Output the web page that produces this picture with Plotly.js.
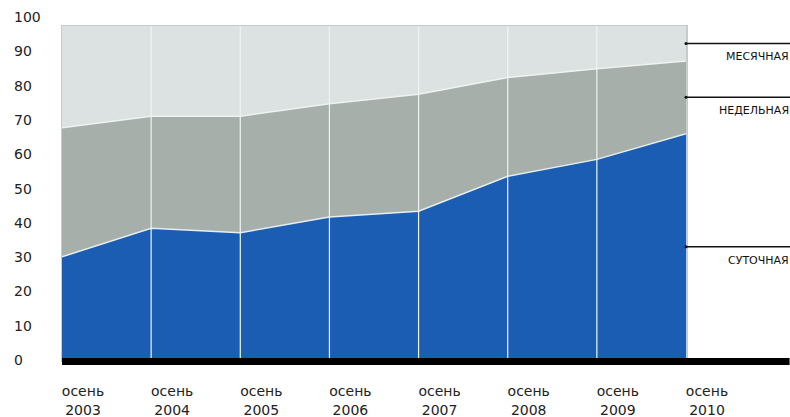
<!DOCTYPE html>
<html>
<head>
<meta charset="utf-8">
<script src="https://cdn.plot.ly/plotly-3.0.1.min.js"></script>
<style>html,body{margin:0;padding:0;background:#fff;}#chart{width:790px;height:417px;}</style>
</head>
<body>
<div id="chart"></div>
<script>
// Data
var categories = ["осень<br>2003","осень<br>2004","осень<br>2005","осень<br>2006","осень<br>2007","осень<br>2008","осень<br>2009","осень<br>2010"];
var daily   = [30.1, 38.4, 37.1, 41.7, 43.4, 53.6, 58.5, 66.0];   // суточная
var weekly  = [37.6, 32.7, 34.0, 33.0, 34.1, 28.8, 26.4, 21.2];   // недельная
var monthly = [32.3, 28.9, 28.9, 25.3, 22.5, 17.6, 15.1, 12.8];   // месячная
var seriesNames = ["СУТОЧНАЯ", "НЕДЕЛЬНАЯ", "МЕСЯЧНАЯ"];
var yTicks = [0,10,20,30,40,50,60,70,80,90,100];

var yMax = 97.4;
var font = "DejaVu Sans, sans-serif";

var traces = [
  {x: categories, y: daily, name: seriesNames[0], type: "scatter", mode: "lines", stackgroup: "one",
   fillcolor: "#1c5db4", line: {color: "#e4eef2", width: 1.5}},
  {x: categories, y: weekly, name: seriesNames[1], type: "scatter", mode: "lines", stackgroup: "one",
   fillcolor: "#a7afab", line: {color: "#eef2f0", width: 1.5}},
  {x: categories, y: monthly, name: seriesNames[2], type: "scatter", mode: "lines", stackgroup: "one",
   fillcolor: "#dce2e1", line: {color: "#dce2e1", width: 1}}
];

var shapes = [];
var annotations = [];
// vertical white grid lines at each category (inner)
for (var i = 1; i < categories.length - 1; i++) {
  shapes.push({type: "line", xref: "x", yref: "paper", x0: i, x1: i, y0: 0, y1: 1,
    line: {color: "#eef4f4", width: 1.2}, layer: "above"});
}
// black baseline extending right
shapes.push({type: "line", xref: "paper", yref: "paper", x0: 0, x1: 1.166, y0: -0.0045, y1: -0.0045,
  line: {color: "#000", width: 7}, layer: "above"});

// y tick labels
yTicks.forEach(function(v){
  annotations.push({xref: "paper", yref: "paper", x: -0.080, y: v / yMax, xanchor: "left", yanchor: "middle",
    text: String(v), showarrow: false, font: {family: font, size: 14, color: "#222"}});
});

// right-side callouts at band midpoints of the last category
var n = categories.length - 1;
var mids = [daily[n] / 2, daily[n] + weekly[n] / 2, (daily[n] + weekly[n] + yMax) / 2];
mids.forEach(function(m, k){
  shapes.push({type: "line", xref: "paper", yref: "y", x0: 1.0, x1: 1.17, y0: m, y1: m,
    line: {color: "#111", width: 1.5}, layer: "above"});
  shapes.push({type: "circle", xref: "paper", yref: "y", xsizemode: "pixel", ysizemode: "pixel",
    xanchor: 1.0, yanchor: m, x0: -1.5, x1: 1.5, y0: -1.5, y1: 1.5,
    fillcolor: "#111", line: {width: 0}, layer: "above"});
  annotations.push({xref: "paper", yref: "y", x: 1.168, y: m, xanchor: "right", yanchor: "top",
    yshift: -5, text: seriesNames[k], showarrow: false, font: {family: font, size: 11, color: "#111"}});
});

var layout = {
  width: 790, height: 417,
  margin: {l: 62, r: 104, t: 26, b: 57},
  paper_bgcolor: "#fff", plot_bgcolor: "#dce2e1",
  showlegend: false,
  xaxis: {type: "category", range: [0, categories.length - 1], showgrid: false, zeroline: false,
    showline: true, mirror: true, linecolor: "#c6cccb", linewidth: 1.5,
    ticks: "", ticklabelshift: 21, ticklabelstandoff: 18,
    tickfont: {family: font, size: 14, color: "#222"}},
  yaxis: {range: [0, yMax], showgrid: false, zeroline: false, showticklabels: false,
    showline: true, mirror: true, linecolor: "#c6cccb", linewidth: 1.5, ticks: ""},
  shapes: shapes,
  annotations: annotations
};

Plotly.newPlot("chart", traces, layout, {displayModeBar: false, staticPlot: true});
</script>
</body>
</html>
